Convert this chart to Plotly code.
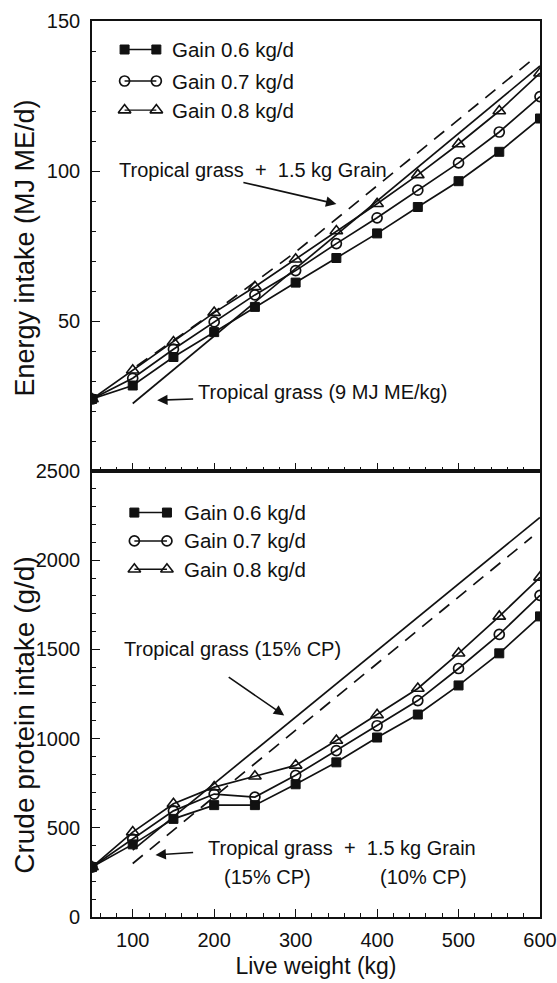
import plotly.graph_objects as go

# ---------------- data ----------------
live_weight = [50, 100, 150, 200, 250, 300, 350, 400, 450, 500, 550, 600]

energy_gain06 = [24, 28.5, 38, 46.3, 54.7, 62.8, 71, 79.2, 88, 96.6, 106.4, 117.5]
energy_gain07 = [24, 30.9, 40.6, 49.7, 58.7, 66.8, 75.8, 84.4, 93.6, 102.7, 113, 124.8]
energy_gain08 = [24, 33.6, 43, 52.8, 61.4, 70.6, 80, 89.1, 98.7, 109, 120, 132.6]

energy_grass_w = [100, 600]
energy_grass = [22.5, 135]
energy_grain_w = [105, 200, 300, 400, 500, 590]
energy_grain = [35, 53, 73, 95, 117, 137]

protein_gain06 = [280, 407, 550, 627, 627, 744, 867, 1006, 1135, 1298, 1478, 1685]
protein_gain07 = [280, 436, 595, 689, 672, 794, 933, 1072, 1213, 1393, 1584, 1803]
protein_gain08 = [280, 476, 635, 728, 789, 850, 989, 1133, 1281, 1478, 1685, 1904]

protein_grass_w = [100, 600]
protein_grass = [375, 2240]
protein_grain_w = [100, 590]
protein_grain = [300, 2130]

series_names = ["Gain 0.6 kg/d", "Gain 0.7 kg/d", "Gain 0.8 kg/d"]

# ---------------- styles ----------------
FONT = "Liberation Sans, Arial, Helvetica, sans-serif"
BLACK = "#111111"
marker_styles = [
    dict(symbol="square", size=9, color=BLACK, line=dict(color=BLACK, width=1)),
    dict(symbol="circle-open", size=10, color=BLACK, line=dict(color=BLACK, width=1.7)),
    dict(symbol="triangle-up-open", size=11, color=BLACK, line=dict(color=BLACK, width=1.6)),
]
LINE = dict(color=BLACK, width=1.7)
DASH = dict(color=BLACK, width=1.7, dash="13px,9px")

fig = go.Figure()

# top panel (energy)
for vals, ms, nm in zip([energy_gain06, energy_gain07, energy_gain08], marker_styles, series_names):
    fig.add_trace(go.Scatter(x=live_weight, y=vals, mode="lines+markers", name=nm,
                             line=LINE, marker=ms, xaxis="x", yaxis="y", showlegend=False))
fig.add_trace(go.Scatter(x=energy_grass_w, y=energy_grass, mode="lines", line=LINE,
                         xaxis="x", yaxis="y", showlegend=False))
fig.add_trace(go.Scatter(x=energy_grain_w, y=energy_grain, mode="lines", line=DASH,
                         xaxis="x", yaxis="y", showlegend=False))

# bottom panel (protein)
for vals, ms, nm in zip([protein_gain06, protein_gain07, protein_gain08], marker_styles, series_names):
    fig.add_trace(go.Scatter(x=live_weight, y=vals, mode="lines+markers", name=nm,
                             line=LINE, marker=ms, xaxis="x2", yaxis="y2", showlegend=False))
fig.add_trace(go.Scatter(x=protein_grass_w, y=protein_grass, mode="lines", line=LINE,
                         xaxis="x2", yaxis="y2", showlegend=False))
fig.add_trace(go.Scatter(x=protein_grain_w, y=protein_grain, mode="lines", line=DASH,
                         xaxis="x2", yaxis="y2", showlegend=False))

# manual legends (marker - line - marker)
annotations = []
legend_specs = [
    ("x", "y", [140.5, 130, 120.3], 90, 129, 146),
    ("x2", "y2", [2267, 2108, 1949], 102, 142, 160),
]
for xa, ya, rows, lx1, lx2, tx in legend_specs:
    for ry, ms, nm in zip(rows, marker_styles, series_names):
        fig.add_trace(go.Scatter(x=[lx1, lx2], y=[ry, ry], mode="lines+markers",
                                 line=dict(color=BLACK, width=1.4), marker=ms,
                                 xaxis=xa, yaxis=ya, showlegend=False, hoverinfo="skip"))
        annotations.append(dict(x=tx, y=ry, xref=xa, yref=ya, text=nm, showarrow=False,
                                xanchor="left", yanchor="middle",
                                font=dict(family=FONT, size=20.5, color=BLACK)))

def label(x, y, xa, ya, text, anchor="center"):
    annotations.append(dict(x=x, y=y, xref=xa, yref=ya, text=text, showarrow=False,
                            xanchor=anchor, yanchor="middle",
                            font=dict(family=FONT, size=20, color=BLACK)))

def arrow(x0, y0, x1, y1, xa, ya):
    annotations.append(dict(x=x1, y=y1, ax=x0, ay=y0, xref=xa, yref=ya, axref=xa, ayref=ya,
                            text="", showarrow=True, arrowhead=2, arrowsize=1.3,
                            arrowwidth=1.6, arrowcolor=BLACK))

# top panel labels
label(248, 100.3, "x", "y", "Tropical grass  +  1.5 kg Grain")
arrow(234, 96.3, 350, 89, "x", "y")
label(333, 26.5, "x", "y", "Tropical grass (9 MJ ME/kg)")
arrow(176, 24, 130, 23.6, "x", "y")

# bottom panel labels
label(222, 1505, "x2", "y2", "Tropical grass (15% CP)")
arrow(216, 1350, 286, 1130, "x2", "y2")
label(357, 385, "x2", "y2", "Tropical grass  +  1.5 kg Grain")
label(266, 225, "x2", "y2", "(15% CP)")
label(457, 225, "x2", "y2", "(10% CP)")
arrow(176, 362, 128, 348, "x2", "y2")

# axis titles
annotations.append(dict(x=-0.150, y=0.747, xref="paper", yref="paper", text="Energy intake (MJ ME/d)",
                        showarrow=False, textangle=-90, xanchor="center", yanchor="middle",
                        font=dict(family=FONT, size=27, color=BLACK)))
annotations.append(dict(x=-0.150, y=0.2255, xref="paper", yref="paper", text="Crude protein intake (g/d)",
                        showarrow=False, textangle=-90, xanchor="center", yanchor="middle",
                        font=dict(family=FONT, size=28, color=BLACK)))

split = 446 / 896

common_x = dict(range=[50, 600], showline=True, linecolor=BLACK, linewidth=1.7, mirror=True,
                ticks="inside", ticklen=8, tickwidth=1.4, tickcolor=BLACK,
                tickvals=[100, 200, 300, 400, 500, 600], showgrid=False, zeroline=False,
                ticklabeloverflow="allow", automargin=False,
                minor=dict(dtick=20, tick0=0, ticks="inside", ticklen=4, tickwidth=1, tickcolor=BLACK),
                tickfont=dict(family=FONT, size=20, color=BLACK))
common_y = dict(showline=True, linecolor=BLACK, linewidth=1.7, mirror=True, ticks="inside",
                ticklen=8, tickwidth=1.4, tickcolor=BLACK, showgrid=False, zeroline=False,
                ticklabelstandoff=6, automargin=False,
                tickfont=dict(family=FONT, size=20, color=BLACK))
fig.update_layout(
    width=557, height=983,
    margin=dict(l=92, r=17, t=21, b=66, autoexpand=False),
    paper_bgcolor="white", plot_bgcolor="white",
    showlegend=False,
    xaxis=dict(common_x, domain=[0, 1], anchor="y", showticklabels=False),
    yaxis=dict(common_y, domain=[split, 1], range=[0, 150], anchor="x",
               tickvals=[50, 100, 150],
               minor=dict(dtick=10, ticks="inside", ticklen=4, tickwidth=1, tickcolor=BLACK)),
    xaxis2=dict(common_x, domain=[0, 1], anchor="y2", ticklabelstandoff=4,
                title=dict(text="Live weight (kg)", font=dict(family=FONT, size=23, color=BLACK),
                           standoff=8)),
    yaxis2=dict(common_y, domain=[0, split], range=[0, 2500], anchor="x2",
                tickvals=[0, 500, 1000, 1500, 2000, 2500],
                minor=dict(dtick=100, ticks="inside", ticklen=4, tickwidth=1, tickcolor=BLACK)),
    annotations=annotations,
)

fig.write_html("out.html")
